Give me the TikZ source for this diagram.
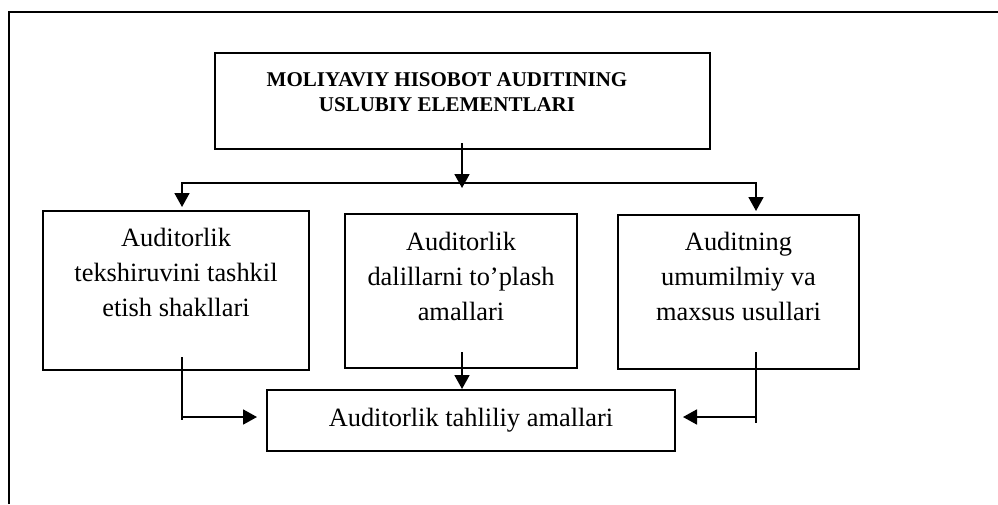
\documentclass[tikz,border=0pt]{standalone}
\usepackage{fontspec}
\setmainfont{Liberation Serif}
\usetikzlibrary{arrows.meta}
\begin{document}
\begin{tikzpicture}[x=1pt,y=-1pt,
  box/.style={draw,line width=2pt,rectangle,inner sep=0pt},
  lbl/.style={align=center,inner sep=0pt,anchor=base,font=\fontsize{26.4}{35}\selectfont},
  ttl/.style={align=center,inner sep=0pt,anchor=base,font=\fontsize{21}{25}\selectfont\bfseries},
  conn/.style={line width=1.8pt},
  arr/.style={conn,-{Triangle[width=15pt,length=14pt]}}]
\useasboundingbox (0,0) rectangle (998,504);
\draw[line width=2.8pt] (9,504) -- (9,12) -- (998,12);
% boxes
\node[box,minimum width=495pt,minimum height=96pt] (title) at (462,101) {};
\node[box,minimum width=266pt,minimum height=159pt] (left) at (176,290.5) {};
\node[box,minimum width=232pt,minimum height=154pt] (mid) at (461,291) {};
\node[box,minimum width=241pt,minimum height=154pt] (right) at (738.5,292) {};
\node[box,minimum width=408pt,minimum height=61pt] (bottom) at (471,420.5) {};
% texts (anchor = baseline of last line)
\node[ttl] (tt) at (447,111.7) {MOLIYAVIY HISOBOT AUDITINING\\USLUBIY ELEMENTLARI};
\node[lbl] (lt) at (176,316.7) {Auditorlik\\tekshiruvini tashkil\\etish shakllari};
\node[lbl] (mt) at (461,320) {Auditorlik\\dalillarni to’plash\\amallari};
\node[lbl] (rt) at (738.5,320) {Auditning\\umumilmiy va\\maxsus usullari};
\node[lbl] (bt) at (471,426.7) {Auditorlik tahliliy amallari};
% connectors
\coordinate (bl) at (182,183);
\coordinate (br) at (756,183);
\draw[arr] ([yshift=7pt]title.south) -- ([yshift=-38pt]title.south);
\draw[conn] (bl) -- (br);
\draw[arr,shorten >=3pt] ([yshift=0.9pt]bl) -- (bl |- left.north);
\draw[arr,shorten >=3pt] ([yshift=0.9pt]br) -- (br |- right.north);
\coordinate (ls) at (182,357);
\coordinate (le) at (182,420);
\coordinate (lk) at (182,417);
\draw[conn] (ls) -- (le);
\draw[arr,shorten >=9pt] (lk) -- (lk -| bottom.west);
\coordinate (ms) at (462,352);
\draw[arr] (ms) -- (ms |- bottom.north);
\coordinate (rs) at (756,352);
\coordinate (re) at (756,423);
\coordinate (rk) at (756,417);
\draw[conn] (rs) -- (re);
\draw[arr,shorten >=7pt] (rk) -- (rk -| bottom.east);
\end{tikzpicture}
\end{document}
